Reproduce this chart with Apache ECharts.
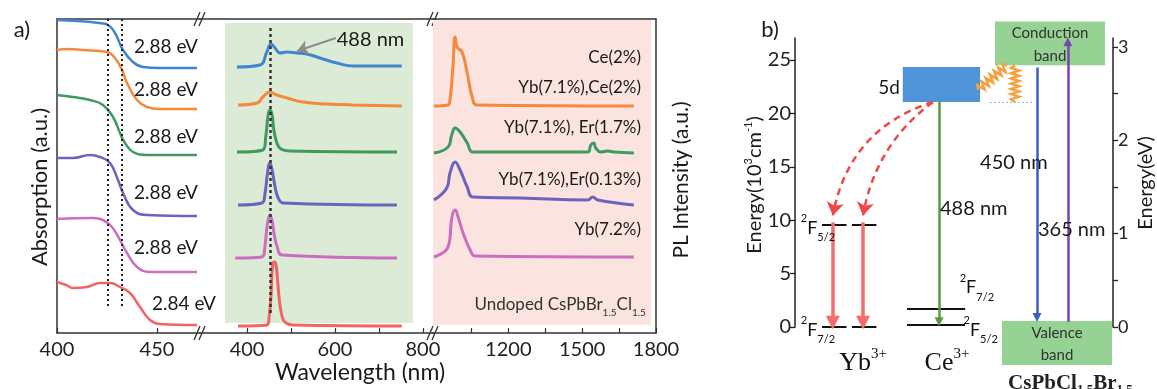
<!DOCTYPE html>
<html>
<head>
<meta charset="utf-8">
<script src="https://cdn.jsdelivr.net/npm/echarts@6/dist/echarts.min.js"></script>
<style>
  html, body { margin: 0; padding: 0; background: #fff; }
  #chart { width: 1157px; height: 389px; }
</style>
</head>
<body>
<div id="chart"></div>
<script>
// samples, top to bottom
const sampleNames = ['Ce(2%)', 'Yb(7.1%),Ce(2%)', 'Yb(7.1%), Er(1.7%)', 'Yb(7.1%),Er(0.13%)', 'Yb(7.2%)', 'Undoped CsPbBr1.5Cl1.5'];
const bandGaps = ['2.88 eV', '2.88 eV', '2.88 eV', '2.88 eV', '2.88 eV', '2.84 eV'];
const sampleColors = ['#3f86d0', '#f5883a', '#3f9a5f', '#6c63bd', '#cc6ec0', '#f06464'];

// absorption [nm, a.u.]
const absCe = [[400,313],[410,312],[421,310],[425.5,308],[429,300],[433,283],[438,271],[443,266],[451.5,265],[470,265]];
const absYbCe = [[400,283],[405,284],[413,283],[425,281],[429,275],[432.5,263],[435,250],[440,233],[445,226],[451.5,224],[470,224]];
const absYbEr17 = [[400,238],[408,236],[416.5,233],[423,228],[428,216],[431.5,200],[434,190],[438,181],[445,178],[470,178]];
const absYbEr013 = [[400,175],[408,175],[416.5,178],[421.5,176],[426.5,170],[430.5,153],[433,140],[438,123],[445,118],[470,117]];
const absYb = [[400,114],[418,115],[423,113],[427.5,106],[431.5,93],[435,80],[440,66],[446.5,61],[470,61]];
const absUndoped = [[400,51],[404.5,48],[408,45],[415,46],[421.5,50],[426.5,50],[431.5,46],[436.5,40],[441.5,26],[446.5,13],[451.5,9],[470,8]];

// visible PL [nm, a.u.]
const visCe = [[377,266],[429.5,268],[445,281],[454.5,289],[463.6,285],[475,280],[491,281],[513.6,280],[536,279],[566,275],[604.5,270],[641,267],[752,267]];
const visYbCe = [[379.5,228],[423,230],[436,236],[452,241],[468,238],[491,235],[527,231],[582,229],[641,228],[752,227]];
const visYbEr17 = [[377,181],[436,183],[443,198],[448,218],[452,223],[457,218],[461,203],[468,190],[477,184],[498,182],[741,181]];
const visYbEr013 = [[379.5,128],[434,130],[441,140],[446,158],[452,170],[457,163],[463,148],[470,136],[482,130],[741,128]];
const visYb = [[373,75],[434,76],[441,88],[446,108],[452,118],[457,112],[462,98],[468,87],[480,78],[741,75]];
const visUndoped = [[379.5,7],[445.5,8],[450,15],[455,40],[458,68],[462,71],[466,68],[469,55],[473,35],[478,20],[486,11],[504.5,8],[752,7]];

// NIR PL [nm, a.u.]
const nirYbCe = [[898,227],[955,228],[963,233],[975,266],[984,296],[992,286],[1012,281],[1033,260],[1053,236],[1073,228],[1710,227]];
const nirYbEr17 = [[898,180],[955,186],[970,198],[984,205],[1004,201],[1033,190],[1057,181],[1522,181],[1535,188],[1547,190],[1555,185],[1575,181],[1604,182],[1629,181],[1710,180]];
const nirYbEr013 = [[898,133],[950,145],[963,160],[984,171],[1004,163],[1033,146],[1057,136],[1249,135],[1522,133],[1543,136],[1563,133],[1710,128]];
const nirYb = [[898,76],[955,86],[971,116],[984,123],[996,116],[1016,100],[1045,83],[1065,77],[1710,76]];

// tick values
const absTicks = [400, 450];
const visTicks = [400, 500, 600, 700, 800];
const visLabels = [400, 600, 800];
const nirTicks = [1050, 1200, 1350, 1500, 1650, 1800];
const nirLabels = [1200, 1500, 1800];
const energyTicks = [0, 5, 10, 15, 20, 25];
const evTicks = [0, 0.5, 1, 1.5, 2, 2.5, 3];
const evLabels = [0, 1, 2, 3];

// energy levels (10^3 cm-1)
const ybLevels = [9.55, 0];
const ceLevels = [1.69, 0.19];
const ce5d = [21.07, 24.34];
const conductionBand = [24.5, 28.6];
const valenceBand = [-3.56, 0.56];
const ybEmission = [9.8, 0.4];
const ce488 = [21.07, 0.5];
const cb450 = [24.3, 0.9];
const vb365 = [0.5, 26.7];

const SANS = 'Lato';
const SERIF = 'Liberation Serif';
const AX = '#333';

var chart = echarts.init(document.getElementById('chart'));

// panel a grids
const gridsA = [
  { left: 57, top: 19, width: 143, height: 314 },
  { left: 200, top: 19, width: 233, height: 314 },
  { left: 433, top: 19, width: 223, height: 314 }
];
const gridB = { left: 795, top: 38, width: 318, height: 289 };
const ranges = [[400, 471.5], [293, 823], [894, 1800]];
const tickSets = [[absTicks, absTicks], [visTicks, visLabels], [nirTicks, nirLabels]];
const plain = function (v) { return String(v); };

const xAxes = [];
gridsA.forEach(function (g, i) {
  xAxes.push({
    type: 'value', gridIndex: i, min: ranges[i][0], max: ranges[i][1],
    axisLine: { show: true, lineStyle: { color: AX, width: 1.5 } },
    axisTick: { show: true, inside: true, length: 5, lineStyle: { color: AX, width: 1.2 }, customValues: tickSets[i][0] },
    axisLabel: { show: true, customValues: tickSets[i][1], formatter: plain, margin: 7, fontFamily: SANS, fontSize: 20, color: '#222' },
    splitLine: { show: false }
  });
});
gridsA.forEach(function (g, i) {
  xAxes.push({
    type: 'value', gridIndex: i, position: 'top', min: ranges[i][0], max: ranges[i][1],
    axisLine: { show: true, lineStyle: { color: AX, width: 1.5 } },
    axisTick: { show: false }, axisLabel: { show: false }, splitLine: { show: false }
  });
});
xAxes.push({ type: 'value', gridIndex: 3, min: 0, max: 100, show: false });

const yAxes = [0, 1, 2].map(function (i) {
  return {
    type: 'value', gridIndex: i, min: 0, max: 314, position: i === 2 ? 'right' : 'left',
    axisLine: { show: i !== 1, lineStyle: { color: AX, width: 1.5 } },
    axisTick: { show: false }, axisLabel: { show: false }, splitLine: { show: false }
  };
});
yAxes.push({
  type: 'value', gridIndex: 3, min: 0, max: 27.06, position: 'left',
  axisLine: { show: true, onZero: false, lineStyle: { color: '#222', width: 1.5 } },
  axisTick: { show: true, length: 5, customValues: energyTicks, lineStyle: { color: '#222', width: 1.3 } },
  axisLabel: { customValues: energyTicks, formatter: plain, margin: 4, fontFamily: SANS, fontSize: 20, color: '#222' },
  splitLine: { show: false }
});
yAxes.push({
  type: 'value', gridIndex: 3, min: 0, max: 3.097, position: 'right',
  axisLine: { show: true, onZero: false, lineStyle: { color: '#222', width: 1.5 } },
  axisTick: { show: true, length: 5, customValues: evTicks, lineStyle: { color: '#222', width: 1.3 } },
  axisLabel: { customValues: evLabels, formatter: plain, margin: 5, fontFamily: SANS, fontSize: 18, color: '#222' },
  splitLine: { show: false }
});

function curve(data, color, gi, width) {
  return {
    type: 'line', xAxisIndex: gi, yAxisIndex: gi, data: data, smooth: 0.45,
    symbol: 'none', lineStyle: { color: color, width: width }, z: 3, silent: true
  };
}
function textPt(x, y, text, opts) {
  return { value: [x, y], label: Object.assign({ show: true, position: 'inside', formatter: text, fontFamily: SANS, color: '#1a1a1a', opacity: 1 }, opts) };
}
function labels(gx, gy, items) {
  return { type: 'scatter', xAxisIndex: gx, yAxisIndex: gy, symbolSize: 0, clip: false, silent: true, z: 10,
    itemStyle: { opacity: 1 }, data: items };
}
function shade(gi, rect, color) {
  return {
    type: 'custom', xAxisIndex: gi, yAxisIndex: gi, z: 1, silent: true, data: [rect],
    renderItem: function (p, api) {
      const a = api.coord([api.value(0), api.value(1)]);
      const b = api.coord([api.value(2), api.value(3)]);
      return { type: 'rect', shape: { x: a[0], y: b[1], width: b[0] - a[0], height: a[1] - b[1] }, style: { fill: color } };
    }
  };
}
function seg(gx, gy, coords, color, width, extra, style) {
  return Object.assign({
    type: 'lines', coordinateSystem: 'cartesian2d', xAxisIndex: gx, yAxisIndex: gy, silent: true, z: 5,
    symbol: ['none', 'none'], data: [{ coords: coords }],
    lineStyle: Object.assign({ color: color, width: width, opacity: 1, curveness: 0 }, style || {})
  }, extra || {});
}

const absSets = [absCe, absYbCe, absYbEr17, absYbEr013, absYb, absUndoped];
const visSets = [visCe, visYbCe, visYbEr17, visYbEr013, visYb, visUndoped];
const nirSets = [null, nirYbCe, nirYbEr17, nirYbEr013, nirYb, null];

const series = [];
series.push(shade(1, [350, 10, 777, 310], '#dcebd5'));
series.push(shade(2, [894, 8, 1780, 313], '#fbe3df'));
absSets.forEach(function (d, i) { series.push(curve(d, sampleColors[i], 0, 2.5)); });
visSets.forEach(function (d, i) { series.push(curve(d, sampleColors[i], 1, 3)); });
nirSets.forEach(function (d, i) { if (d) series.push(curve(d, sampleColors[i], 2, 3)); });

// guide lines
series.push(seg(0, 0, [[425.5, 314], [425.5, 25]], '#222', 2, null, { type: [2, 3] }));
series.push(seg(0, 0, [[432.5, 314], [432.5, 25]], '#222', 2, null, { type: [2, 3] }));
series.push(seg(1, 1, [[452, 305], [452, 18]], '#333', 2.5, null, { type: [3, 3] }));
series.push(seg(1, 1, [[602, 295], [514, 282]], '#8c8c8c', 2, { symbol: ['none', 'arrow'], symbolSize: 11 }));

// gap labels
const gapY = [286, 243, 196, 140, 85, 29];
series.push(labels(0, 0, bandGaps.map(function (t, i) {
  return textPt(i === 5 ? 447.5 : 438.5, gapY[i], t, { align: 'left', fontSize: 19 });
})));
series.push(labels(1, 1, [textPt(604, 293, '488 nm', { align: 'left', fontSize: 20 })]));
const nameY = [275, 245, 205, 153, 103];
const nirLabelItems = sampleNames.slice(0, 5).map(function (t, i) {
  return textPt(1739, nameY[i], t, { align: 'right', fontSize: 17 });
});
nirLabelItems.push(textPt(1759, 28, '{m|Undoped CsPbBr}{s|1.5}{m|Cl}{s|1.5}', {
  align: 'right',
  rich: {
    m: { fontFamily: SANS, fontSize: 17, color: '#333', lineHeight: 26 },
    s: { fontFamily: SANS, fontSize: 10, color: '#333', lineHeight: 10, verticalAlign: 'bottom' }
  }
}));
series.push(labels(2, 2, nirLabelItems));

// panel b
function bseg(coords, color, width, extra, style) { return seg(6, 3, coords, color, width, extra, style); }
function box(range, x0, x1, color) {
  return {
    type: 'custom', xAxisIndex: 6, yAxisIndex: 3, z: 2, silent: true, clip: false, data: [[x0, range[0], x1, range[1]]],
    renderItem: function (p, api) {
      const a = api.coord([api.value(0), api.value(1)]);
      const b = api.coord([api.value(2), api.value(3)]);
      return { type: 'rect', shape: { x: a[0], y: b[1], width: b[0] - a[0], height: a[1] - b[1] }, style: { fill: color } };
    }
  };
}
series.push(box(conductionBand, 62.9, 97.5, '#95d293'));
series.push(box(valenceBand, 65.1, 99.7, '#95d293'));
series.push(box(ce5d, 33.9, 58.2, '#4f94d8'));

// level lines
[8.5, 17.9].forEach(function (x0) {
  ybLevels.forEach(function (e) { series.push(bseg([[x0, e], [x0 + 7.7, e]], '#111', 2)); });
});
ceLevels.forEach(function (e) { series.push(bseg([[35.2, e], [53.5, e]], '#111', 2)); });
series.push(bseg([[61.3, ce5d[0]], [74.8, ce5d[0]]], '#8ab8e8', 1, null, { type: [2, 2] }));

// transitions
[11.9, 21.4].forEach(function (x, k) {
  series.push(bseg([[x, ybEmission[0]], [x, ybEmission[1]]], '#f26f6f', 3.5, { symbol: ['none', 'triangle'], symbolSize: 14 }));
  series.push(bseg([[43.4, ce5d[0]], [x, ybLevels[0] + 0.9]], '#f04848', 2.5,
    { symbol: ['none', 'arrow'], symbolSize: 13 },
    { type: [7, 5], curveness: k === 0 ? -0.3 : -0.2 }));
});
series.push(bseg([[45.3, ce488[0]], [45.3, ce488[1]]], '#5a9a3c', 2.5, { symbol: ['none', 'triangle'], symbolSize: 9 }));
series.push(bseg([[76.1, cb450[0]], [76.1, cb450[1]]], '#3a5fc0', 2.5, { symbol: ['none', 'triangle'], symbolSize: 9 }));
series.push(bseg([[85.8, vb365[0]], [85.8, vb365[1]]], '#7a45b0', 2.5, { symbol: ['none', 'triangle'], symbolSize: 9 }));

// phonon relaxation springs
series.push({
  type: 'custom', xAxisIndex: 6, yAxisIndex: 3, z: 4, silent: true, clip: false,
  data: [[66.7, conductionBand[0], 57.5, 22.2], [69.2, conductionBand[0], 69.2, ce5d[0]]],
  renderItem: function (p, api) {
    const a = api.coord([api.value(0), api.value(1)]);
    const b = api.coord([api.value(2), api.value(3)]);
    const dx = b[0] - a[0], dy = b[1] - a[1];
    const len = Math.sqrt(dx * dx + dy * dy);
    const nx = -dy / len, ny = dx / len;
    const n = 14, pts = [a];
    for (let i = 1; i < n; i++) {
      const t = i / n, s = (i % 2 ? 1 : -1) * 4;
      pts.push([a[0] + dx * t + nx * s, a[1] + dy * t + ny * s]);
    }
    pts.push(b);
    return { type: 'polyline', shape: { points: pts }, style: { stroke: '#f5a142', lineWidth: 2.5, fill: null } };
  }
});

const levelRich = {
  f: { fontFamily: SANS, fontSize: 18, color: '#111', lineHeight: 30 },
  p: { fontFamily: SANS, fontSize: 11, color: '#111', lineHeight: 11, verticalAlign: 'top' },
  b: { fontFamily: SANS, fontSize: 11, color: '#111', lineHeight: 11, verticalAlign: 'bottom' }
};
const serifRich = {
  m: { fontFamily: SERIF, fontSize: 26, color: '#111', lineHeight: 34 },
  s: { fontFamily: SERIF, fontSize: 15, color: '#111', lineHeight: 15, verticalAlign: 'top' }
};
series.push(labels(6, 3, [
  textPt(33.0, 22.4, '5d', { align: 'right', fontSize: 19 }),
  textPt(45.6, 11.1, '488 nm', { align: 'left', fontSize: 20 }),
  textPt(58.2, 15.4, '450 nm', { align: 'left', fontSize: 20 }),
  textPt(76.4, 9.1, '365 nm', { align: 'left', fontSize: 20 }),
  textPt(80.2, 26.4, 'Conduction\nband', { align: 'center', fontSize: 15, lineHeight: 23, color: '#333' }),
  textPt(82.4, -1.6, 'Valence\nband', { align: 'center', fontSize: 15, lineHeight: 22, color: '#333' }),
  textPt(12.6, ybLevels[0] - 0.3, '{p|2}{f|F}{b|5/2}', { align: 'right', rich: levelRich }),
  textPt(12.6, ybLevels[1] - 0.3, '{p|2}{f|F}{b|7/2}', { align: 'right', rich: levelRich }),
  textPt(51.8, ceLevels[0] + 2.0, '{p|2}{f|F}{b|7/2}', { align: 'left', rich: levelRich }),
  textPt(53.0, ceLevels[1] - 0.5, '{p|2}{f|F}{b|5/2}', { align: 'left', rich: levelRich }),
  textPt(21.4, -3.4, '{m|Yb}{s|3+}', { align: 'center', rich: serifRich }),
  textPt(47.8, -3.4, '{m|Ce}{s|3+}', { align: 'center', rich: serifRich }),
  textPt(67.0, -5.3, '{m|CsPbCl}{s|1.5}{m|Br}{s|1.5}', { align: 'left', rich: {
    m: { fontFamily: SERIF, fontSize: 21, fontWeight: 'bold', color: '#222', lineHeight: 26 },
    s: { fontFamily: SERIF, fontSize: 13, fontWeight: 'bold', color: '#222', lineHeight: 13, verticalAlign: 'bottom' } } })
]));

function breakMark(x, y) {
  return {
    type: 'group', x: x, y: y, z: 100, children: [
      { type: 'polygon', shape: { points: [[-6, 7], [0, -7], [5, -7], [-1, 7]] }, style: { fill: '#fff' } },
      { type: 'line', shape: { x1: -6, y1: 7, x2: 0, y2: -7 }, style: { stroke: AX, lineWidth: 1.3 } },
      { type: 'line', shape: { x1: -1, y1: 7, x2: 5, y2: -7 }, style: { stroke: AX, lineWidth: 1.3 } }
    ]
  };
}
function title(x, y, text, size, rot, extra) {
  return { type: 'text', x: x, y: y, rotation: rot || 0, z: 100,
    style: Object.assign({ text: text, font: size + 'px ' + SANS, fill: '#1a1a1a', align: 'center', verticalAlign: 'middle' }, extra || {}) };
}

const graphics = [
  breakMark(200, 19), breakMark(200, 333), breakMark(433, 19), breakMark(433, 333),
  title(22, 30, 'a)', 22),
  title(770, 30, 'b)', 22),
  title(40, 187, 'Absorption (a.u.)', 22, Math.PI / 2),
  title(681, 180, 'PL Intensity (a.u.)', 21, Math.PI / 2),
  title(360, 373, 'Wavelength (nm)', 23),
  title(755, 185, '{n|Energy(10}{s|3}{n|cm}{s|-1}{n|)}', 20, Math.PI / 2, { rich: {
    n: { fontFamily: SANS, fontSize: 20, fill: '#1a1a1a', lineHeight: 24 },
    s: { fontFamily: SANS, fontSize: 11, fill: '#1a1a1a', lineHeight: 11, verticalAlign: 'top' } } }),
  title(1146, 183, 'Energy(eV)', 20, Math.PI / 2)
];

var option = {
  animation: false,
  backgroundColor: '#fff',
  grid: gridsA.concat([gridB]),
  xAxis: xAxes,
  yAxis: yAxes,
  series: series,
  graphic: graphics
};
chart.setOption(option);
</script>
</body>
</html>
